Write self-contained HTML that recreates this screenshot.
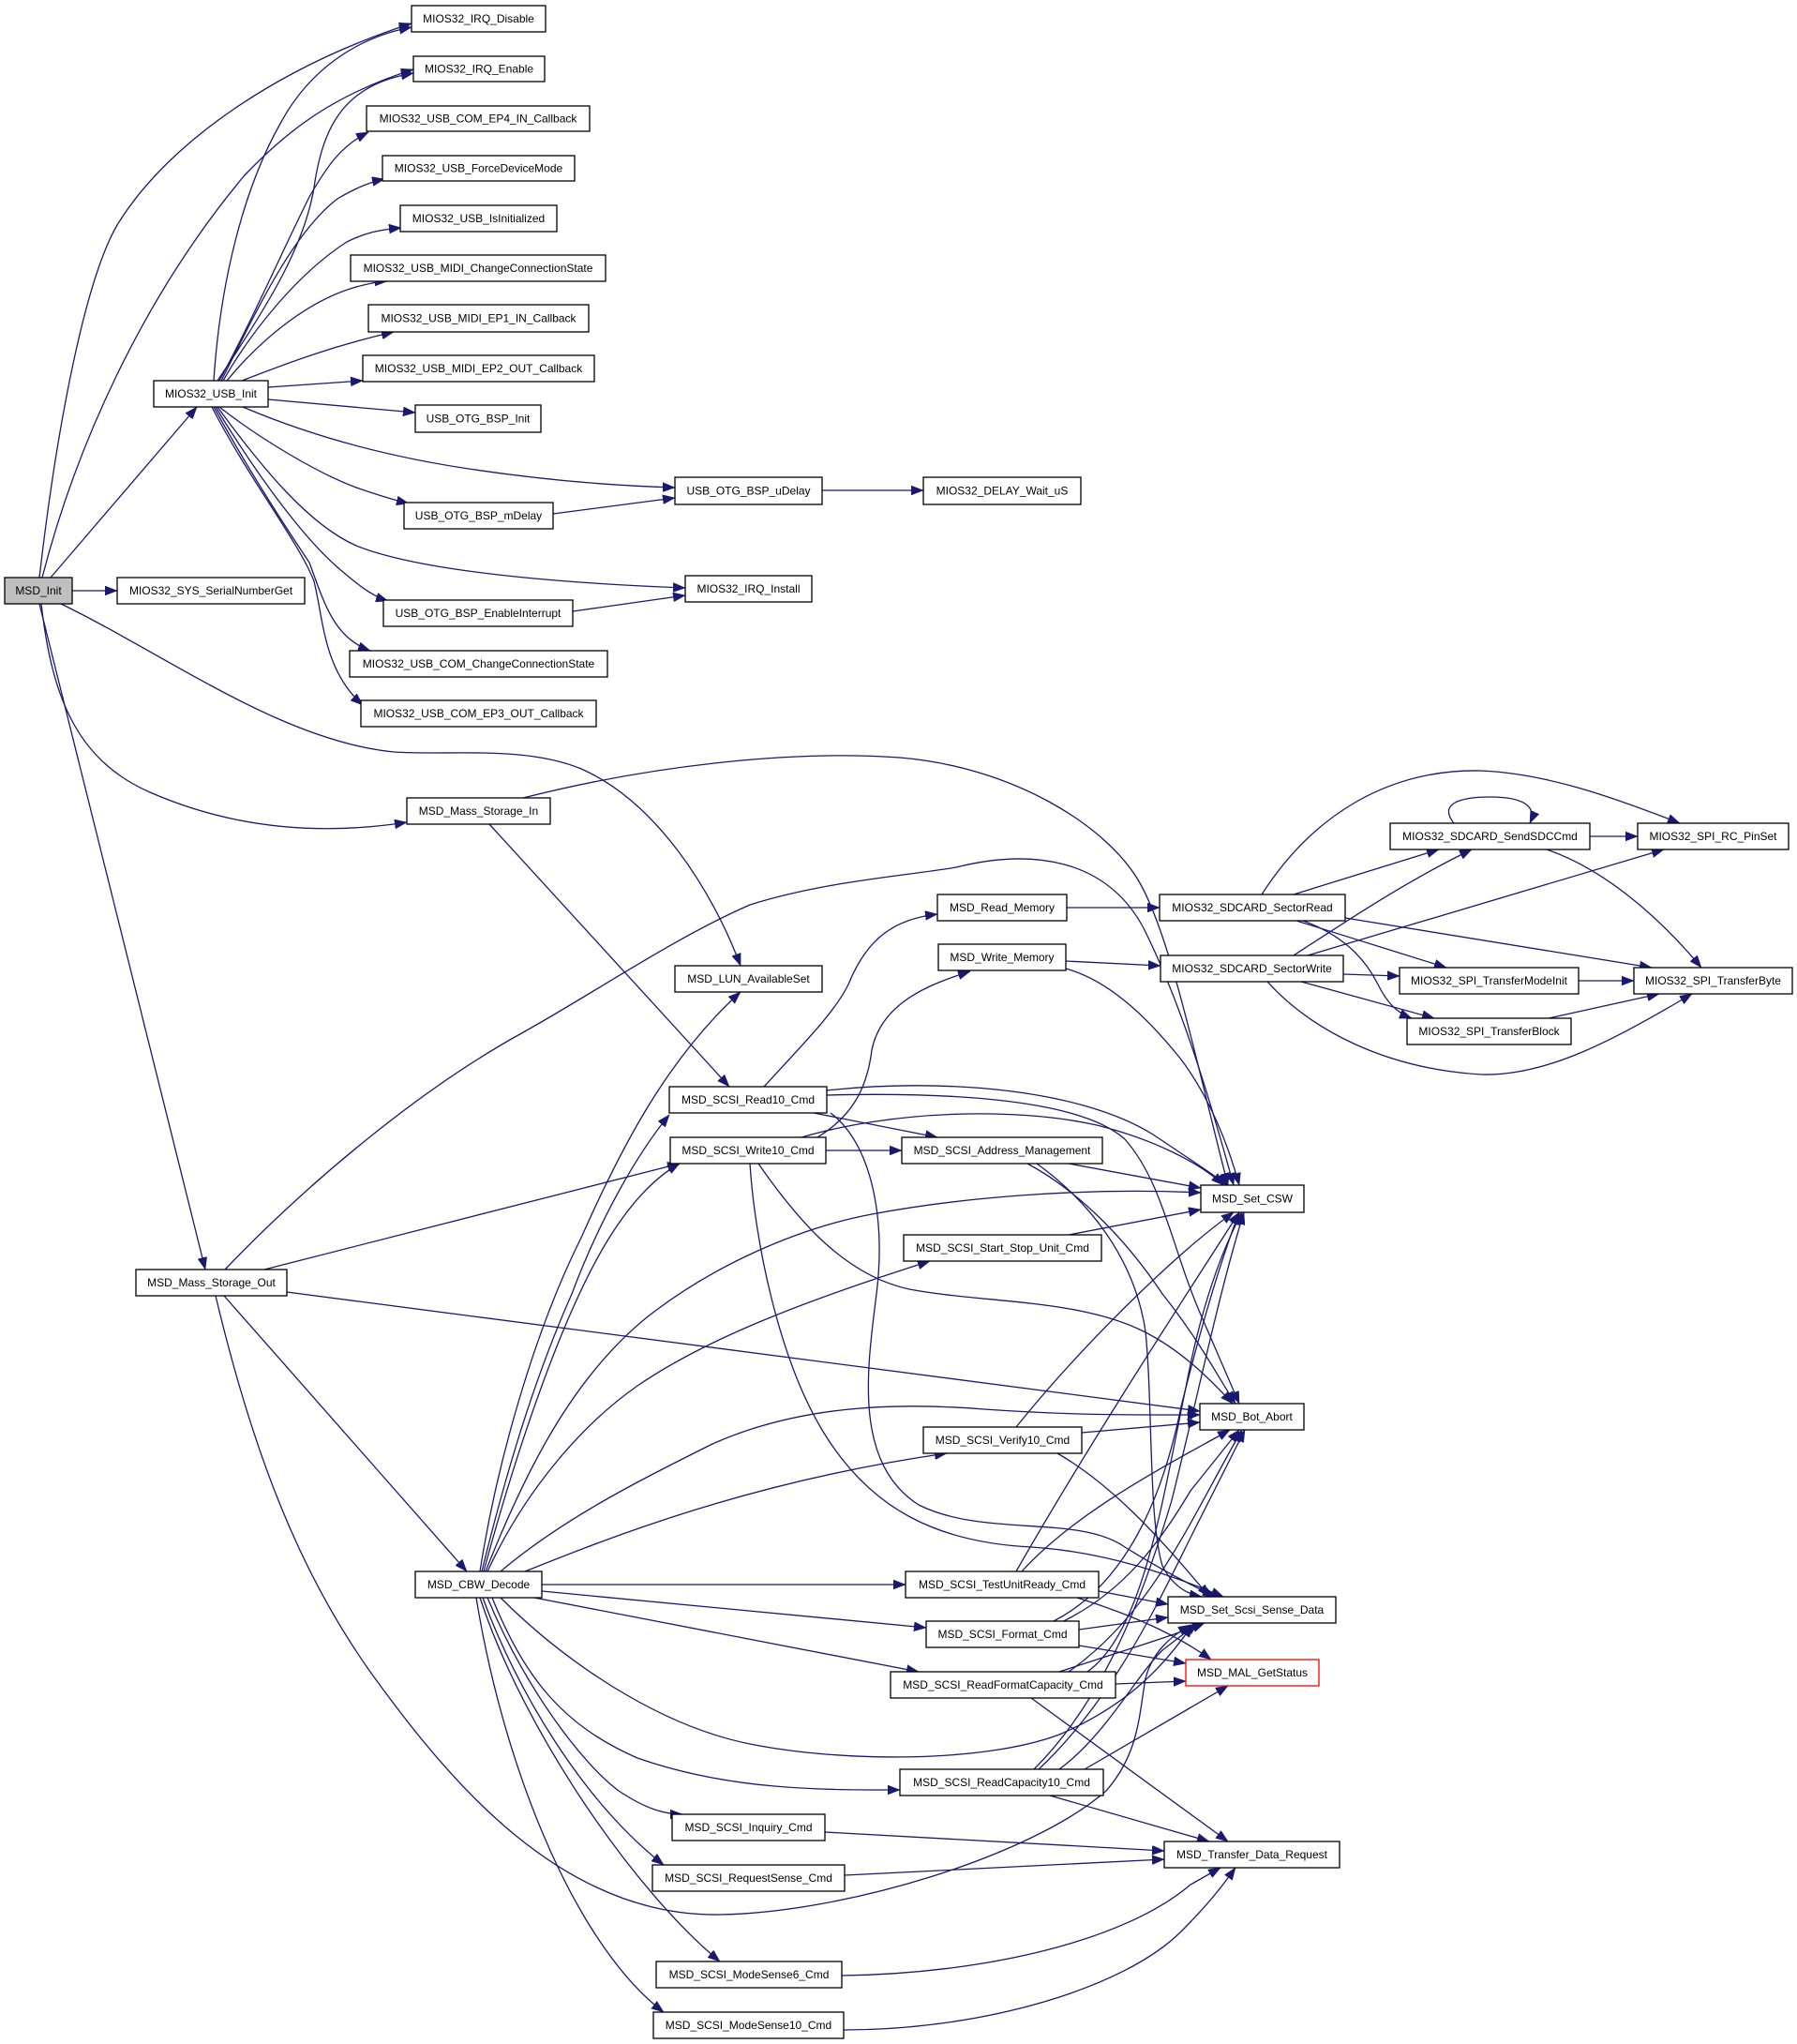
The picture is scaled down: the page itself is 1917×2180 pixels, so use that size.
<!DOCTYPE html>
<html><head><meta charset="utf-8"><style>
html,body{margin:0;padding:0;background:#fff;}
svg{display:block;}
text{font-family:"Liberation Sans",Arial,sans-serif;font-size:12px;fill:#000;text-anchor:middle;}
.e{fill:none;stroke:#191970;stroke-width:1.3;marker-end:url(#a);}
.n{fill:#fff;stroke:#000;stroke-width:1.3;}
</style></head><body>
<svg width="1917" height="2180" viewBox="0 0 1917 2180" xmlns="http://www.w3.org/2000/svg">
<defs><marker id="a" markerUnits="userSpaceOnUse" markerWidth="13" markerHeight="10" refX="13" refY="5" orient="auto"><path d="M0,0 L13,5 L0,10 z" fill="#191970" stroke="#191970" stroke-width="0.5"/></marker></defs>
<rect width="1917" height="2180" fill="#fff"/>
<g>
<!-- MSD_Init edges -->
<path class="e" d="M42,616 C60,460 90,300 125,240 C180,150 300,70 439,25"/>
<path class="e" d="M45,616 C80,480 150,320 260,188 C310,135 360,100 441,74"/>
<path class="e" d="M54,616 L210,434"/>
<path class="e" d="M77,630 L125,630"/>
<path class="e" d="M65,644 C180,700 300,790 420,802 C480,806 560,795 620,820 C700,855 760,950 790,1030"/>
<path class="e" d="M44,644 C55,740 80,810 160,845 C240,880 330,893 434,877"/>
<path class="e" d="M42,644 L219,1354"/>
<!-- USB_Init edges -->
<path class="e" d="M228,406 C235,300 260,200 300,130 C330,75 380,40 439,29"/>
<path class="e" d="M232,406 C290,320 325,260 335,200 C345,130 370,90 441,78"/>
<path class="e" d="M234,406 C270,340 300,270 330,210 C350,175 365,155 393,141"/>
<path class="e" d="M236,406 C270,340 310,250 360,212 C380,200 395,194 410,191"/>
<path class="e" d="M238,406 C270,350 320,290 370,258 C390,248 405,245 428,243"/>
<path class="e" d="M242,406 C280,360 330,320 380,306 C395,302 405,300 413,300"/>
<path class="e" d="M258,406 C300,390 350,370 420,354"/>
<path class="e" d="M286,413 L387,406"/>
<path class="e" d="M286,426 L443,440"/>
<path class="e" d="M259,434 C320,460 400,485 500,500 C580,512 650,518 720,520"/>
<path class="e" d="M234,434 C280,470 340,505 380,520 C400,527 415,532 436,537"/>
<path class="e" d="M232,434 C280,500 330,560 380,582 C450,610 600,622 731,627"/>
<path class="e" d="M230,434 C270,500 320,570 360,605 C380,622 395,635 414,641"/>
<path class="e" d="M228,434 C270,510 310,570 330,600 C345,640 355,680 395,694"/>
<path class="e" d="M226,434 C265,510 320,580 335,620 C345,660 345,715 387,752"/>
<path class="e" d="M590,548 L720,531"/>
<path class="e" d="M611,652 L731,635"/>
<path class="e" d="M877,523 L985,523"/>
<!-- Mass storage -->
<path class="e" d="M558,851 C700,815 850,800 960,808 C1080,818 1180,880 1215,940 C1250,1000 1280,1150 1310,1264"/>
<path class="e" d="M522,879 L778,1159"/>
<path class="e" d="M240,1354 C330,1260 450,1160 560,1100 C640,1055 720,1000 800,965 C880,940 960,935 1020,925 C1100,905 1180,915 1220,990 C1260,1070 1290,1170 1316,1264"/>
<path class="e" d="M282,1354 L725,1241"/>
<path class="e" d="M306,1378 L1280,1505"/>
<path class="e" d="M239,1382 L498,1676"/>
<path class="e" d="M230,1382 C270,1550 320,1680 400,1790 C480,1900 600,2045 768,2042 C900,2040 1100,1980 1180,1910 C1215,1870 1215,1830 1222,1790 C1230,1760 1250,1745 1270,1733"/>
<!-- Memory / SDCARD -->
<path class="e" d="M1138,968 L1237,968"/>
<path class="e" d="M1137,1025 L1238,1030"/>
<path class="e" d="M1137,1033 C1180,1045 1220,1080 1260,1130 C1290,1170 1310,1220 1322,1264"/>
<path class="e" d="M815,1159 C860,1110 890,1080 905,1050 C925,1000 955,980 1000,975"/>
<path class="e" d="M872,1213 C910,1190 925,1160 930,1120 C940,1070 990,1050 1035,1036"/>
<path class="e" d="M1380,954 L1535,906"/>
<path class="e" d="M1346,954 C1400,870 1480,820 1580,822 C1650,825 1720,850 1792,878"/>
<path class="e" d="M1435,979 L1762,1032"/>
<path class="e" d="M1383,982 L1543,1032"/>
<path class="e" d="M1390,982 C1440,1000 1460,1030 1470,1050 C1480,1070 1490,1080 1506,1086"/>
<path class="e" d="M1380,1019 C1440,980 1500,940 1570,906"/>
<path class="e" d="M1395,1019 L1775,906"/>
<path class="e" d="M1433,1039 L1493,1041"/>
<path class="e" d="M1388,1047 L1530,1086"/>
<path class="e" d="M1352,1047 C1400,1100 1480,1140 1580,1146 C1650,1148 1720,1110 1805,1060"/>
<path class="e" d="M1696,892 L1747,892"/>
<path class="e" d="M1650,906 C1720,930 1780,990 1815,1032"/>
<path class="e" d="M1551,878 C1535,858 1555,850 1590,850 C1625,850 1640,860 1632,878"/>
<path class="e" d="M1684,1046 L1743,1046"/>
<path class="e" d="M1652,1086 L1770,1060"/>
<!-- Read10 / Write10 / Addr -->
<path class="e" d="M882,1163 C1000,1150 1150,1160 1230,1210 C1260,1230 1290,1250 1310,1264"/>
<path class="e" d="M882,1168 C1000,1165 1150,1170 1200,1215 C1240,1260 1250,1330 1280,1400 L1322,1497"/>
<path class="e" d="M868,1187 L1000,1213"/>
<path class="e" d="M886,1187 C930,1220 945,1300 935,1380 C925,1460 910,1560 980,1605 C1050,1640 1150,1615 1200,1650 C1240,1675 1270,1690 1296,1703"/>
<path class="e" d="M881,1227 L962,1227"/>
<path class="e" d="M855,1213 C950,1185 1080,1180 1170,1200 C1230,1215 1280,1240 1305,1264"/>
<path class="e" d="M809,1241 C850,1300 900,1360 970,1375 C1050,1390 1150,1385 1220,1420 C1260,1440 1290,1470 1315,1497"/>
<path class="e" d="M800,1241 C805,1320 830,1450 880,1530 C930,1610 1000,1645 1100,1650 C1180,1655 1250,1680 1305,1703"/>
<path class="e" d="M1140,1241 L1281,1267"/>
<path class="e" d="M1096,1241 C1150,1270 1200,1320 1240,1380 C1280,1430 1300,1470 1318,1497"/>
<path class="e" d="M1106,1241 C1160,1280 1210,1340 1222,1420 C1230,1500 1225,1620 1240,1670 C1250,1690 1265,1700 1282,1703"/>
<path class="e" d="M1140,1317 L1281,1290"/>
<!-- CBW_Decode -->
<path class="e" d="M512,1676 C530,1560 570,1420 620,1320 C660,1230 710,1130 790,1058"/>
<path class="e" d="M514,1676 C540,1570 570,1470 610,1380 C640,1300 680,1230 714,1189"/>
<path class="e" d="M516,1676 C550,1550 600,1400 650,1320 C675,1280 700,1255 725,1241"/>
<path class="e" d="M518,1676 C560,1570 610,1470 690,1405 C760,1350 850,1310 930,1295 C1020,1278 1150,1266 1281,1272"/>
<path class="e" d="M520,1676 C560,1590 620,1520 680,1478 C750,1430 850,1390 992,1345"/>
<path class="e" d="M534,1676 C600,1620 680,1580 760,1540 C850,1500 950,1495 1050,1503 C1150,1510 1220,1509 1280,1509"/>
<path class="e" d="M560,1676 C650,1640 800,1580 1010,1550"/>
<path class="e" d="M578,1690 L966,1690"/>
<path class="e" d="M578,1697 L988,1736"/>
<path class="e" d="M570,1704 L980,1783"/>
<path class="e" d="M534,1704 C600,1770 700,1840 800,1860 C900,1880 1050,1880 1130,1850 C1200,1820 1240,1780 1272,1733"/>
<path class="e" d="M525,1704 C560,1790 600,1840 680,1875 C780,1910 880,1909 960,1909"/>
<path class="e" d="M520,1704 C560,1800 620,1880 660,1910 C690,1930 710,1935 728,1935"/>
<path class="e" d="M515,1704 C550,1800 620,1920 708,1989"/>
<path class="e" d="M512,1704 C560,1850 680,2020 768,2092"/>
<path class="e" d="M508,1704 C540,1900 620,2080 708,2146"/>
<!-- Verify10 -->
<path class="e" d="M1084,1522 C1150,1440 1250,1340 1316,1293"/>
<path class="e" d="M1154,1528 L1280,1517"/>
<path class="e" d="M1128,1550 C1180,1580 1230,1630 1290,1703"/>
<!-- TestUnitReady -->
<path class="e" d="M1084,1676 C1150,1560 1240,1420 1322,1293"/>
<path class="e" d="M1090,1676 C1150,1610 1250,1560 1312,1525"/>
<path class="e" d="M1172,1697 L1246,1711"/>
<path class="e" d="M1149,1704 C1200,1720 1250,1740 1292,1770"/>
<!-- Format -->
<path class="e" d="M1124,1729 C1200,1690 1240,1600 1260,1500 C1280,1420 1300,1350 1322,1293"/>
<path class="e" d="M1126,1733 C1200,1700 1240,1640 1270,1590 L1322,1525"/>
<path class="e" d="M1151,1738 L1246,1725"/>
<path class="e" d="M1151,1755 L1265,1774"/>
<!-- ReadFormatCapacity -->
<path class="e" d="M1160,1783 C1220,1740 1240,1600 1265,1480 C1280,1400 1300,1340 1325,1293"/>
<path class="e" d="M1140,1783 C1230,1720 1270,1620 1325,1525"/>
<path class="e" d="M1130,1783 C1200,1760 1250,1745 1285,1731"/>
<path class="e" d="M1190,1796 L1265,1793"/>
<path class="e" d="M1100,1811 L1310,1964"/>
<!-- ReadCapacity10 -->
<path class="e" d="M1103,1887 C1180,1810 1220,1700 1250,1600 C1280,1480 1300,1380 1327,1293"/>
<path class="e" d="M1108,1887 C1190,1810 1240,1700 1270,1640 L1328,1525"/>
<path class="e" d="M1130,1887 C1180,1850 1210,1790 1240,1760 L1278,1731"/>
<path class="e" d="M1157,1887 L1310,1798"/>
<path class="e" d="M1120,1915 L1290,1964"/>
<!-- others to TDR -->
<path class="e" d="M880,1954 L1242,1974"/>
<path class="e" d="M901,2000 L1242,1983"/>
<path class="e" d="M898,2107 C1050,2105 1200,2070 1270,2010 L1302,1992"/>
<path class="e" d="M900,2165 C1050,2165 1200,2120 1260,2060 C1290,2030 1305,2010 1318,1992"/>
</g>
<g>
<rect class="n" x="5" y="616" width="72" height="28" style="fill:#bfbfbf"/><text x="41" y="634">MSD_Init</text>
<rect class="n" x="439" y="6" width="143" height="28"/><text x="510.5" y="24">MIOS32_IRQ_Disable</text>
<rect class="n" x="441" y="60" width="140" height="27"/><text x="511" y="77.5">MIOS32_IRQ_Enable</text>
<rect class="n" x="391" y="113" width="238" height="27"/><text x="510" y="130.5">MIOS32_USB_COM_EP4_IN_Callback</text>
<rect class="n" x="408" y="166" width="205" height="27"/><text x="510.5" y="183.5">MIOS32_USB_ForceDeviceMode</text>
<rect class="n" x="427" y="219" width="167" height="28"/><text x="510.5" y="237">MIOS32_USB_IsInitialized</text>
<rect class="n" x="374" y="272" width="272" height="28"/><text x="510" y="290">MIOS32_USB_MIDI_ChangeConnectionState</text>
<rect class="n" x="393" y="325" width="235" height="29"/><text x="510.5" y="343.5">MIOS32_USB_MIDI_EP1_IN_Callback</text>
<rect class="n" x="387" y="379" width="247" height="28"/><text x="510.5" y="397">MIOS32_USB_MIDI_EP2_OUT_Callback</text>
<rect class="n" x="443" y="432" width="134" height="29"/><text x="510" y="450.5">USB_OTG_BSP_Init</text>
<rect class="n" x="164" y="406" width="122" height="28"/><text x="225" y="424">MIOS32_USB_Init</text>
<rect class="n" x="720" y="509" width="157" height="29"/><text x="798.5" y="527.5">USB_OTG_BSP_uDelay</text>
<rect class="n" x="985" y="509" width="168" height="29"/><text x="1069" y="527.5">MIOS32_DELAY_Wait_uS</text>
<rect class="n" x="431" y="536" width="159" height="28"/><text x="510.5" y="554">USB_OTG_BSP_mDelay</text>
<rect class="n" x="731" y="614" width="135" height="28"/><text x="798.5" y="632">MIOS32_IRQ_Install</text>
<rect class="n" x="125" y="616" width="200" height="28"/><text x="225" y="634">MIOS32_SYS_SerialNumberGet</text>
<rect class="n" x="409" y="640" width="202" height="28"/><text x="510" y="658">USB_OTG_BSP_EnableInterrupt</text>
<rect class="n" x="373" y="694" width="275" height="28"/><text x="510.5" y="712">MIOS32_USB_COM_ChangeConnectionState</text>
<rect class="n" x="385" y="747" width="251" height="28"/><text x="510.5" y="765">MIOS32_USB_COM_EP3_OUT_Callback</text>
<rect class="n" x="434" y="851" width="153" height="28"/><text x="510.5" y="869">MSD_Mass_Storage_In</text>
<rect class="n" x="145" y="1354" width="161" height="28"/><text x="225.5" y="1372">MSD_Mass_Storage_Out</text>
<rect class="n" x="720" y="1030" width="157" height="28"/><text x="798.5" y="1048">MSD_LUN_AvailableSet</text>
<rect class="n" x="1000" y="954" width="138" height="28"/><text x="1069" y="972">MSD_Read_Memory</text>
<rect class="n" x="1001" y="1007" width="136" height="28"/><text x="1069" y="1025">MSD_Write_Memory</text>
<rect class="n" x="1237" y="954" width="198" height="28"/><text x="1336" y="972">MIOS32_SDCARD_SectorRead</text>
<rect class="n" x="1238" y="1019" width="195" height="28"/><text x="1335.5" y="1037">MIOS32_SDCARD_SectorWrite</text>
<rect class="n" x="1483" y="878" width="213" height="28"/><text x="1589.5" y="896">MIOS32_SDCARD_SendSDCCmd</text>
<rect class="n" x="1747" y="878" width="161" height="28"/><text x="1827.5" y="896">MIOS32_SPI_RC_PinSet</text>
<rect class="n" x="1493" y="1032" width="191" height="28"/><text x="1588.5" y="1050">MIOS32_SPI_TransferModeInit</text>
<rect class="n" x="1743" y="1032" width="169" height="28"/><text x="1827.5" y="1050">MIOS32_SPI_TransferByte</text>
<rect class="n" x="1501" y="1086" width="175" height="28"/><text x="1588.5" y="1104">MIOS32_SPI_TransferBlock</text>
<rect class="n" x="714" y="1159" width="168" height="28"/><text x="798" y="1177">MSD_SCSI_Read10_Cmd</text>
<rect class="n" x="715" y="1213" width="166" height="28"/><text x="798" y="1231">MSD_SCSI_Write10_Cmd</text>
<rect class="n" x="962" y="1213" width="214" height="28"/><text x="1069" y="1231">MSD_SCSI_Address_Management</text>
<rect class="n" x="1281" y="1264" width="110" height="29"/><text x="1336" y="1282.5">MSD_Set_CSW</text>
<rect class="n" x="964" y="1317" width="211" height="28"/><text x="1069.5" y="1335">MSD_SCSI_Start_Stop_Unit_Cmd</text>
<rect class="n" x="1280" y="1497" width="111" height="28"/><text x="1335.5" y="1515">MSD_Bot_Abort</text>
<rect class="n" x="985" y="1522" width="169" height="28"/><text x="1069.5" y="1540">MSD_SCSI_Verify10_Cmd</text>
<rect class="n" x="443" y="1676" width="135" height="28"/><text x="510.5" y="1694">MSD_CBW_Decode</text>
<rect class="n" x="966" y="1676" width="206" height="28"/><text x="1069" y="1694">MSD_SCSI_TestUnitReady_Cmd</text>
<rect class="n" x="1246" y="1703" width="179" height="28"/><text x="1335.5" y="1721">MSD_Set_Scsi_Sense_Data</text>
<rect class="n" x="988" y="1729" width="163" height="28"/><text x="1069.5" y="1747">MSD_SCSI_Format_Cmd</text>
<rect class="n" x="1265" y="1770" width="142" height="28" style="stroke:#ff0000"/><text x="1336" y="1788">MSD_MAL_GetStatus</text>
<rect class="n" x="950" y="1783" width="240" height="28"/><text x="1070" y="1801">MSD_SCSI_ReadFormatCapacity_Cmd</text>
<rect class="n" x="960" y="1887" width="217" height="28"/><text x="1068.5" y="1905">MSD_SCSI_ReadCapacity10_Cmd</text>
<rect class="n" x="717" y="1935" width="163" height="28"/><text x="798.5" y="1953">MSD_SCSI_Inquiry_Cmd</text>
<rect class="n" x="696" y="1989" width="205" height="28"/><text x="798.5" y="2007">MSD_SCSI_RequestSense_Cmd</text>
<rect class="n" x="1242" y="1964" width="187" height="28"/><text x="1335.5" y="1982">MSD_Transfer_Data_Request</text>
<rect class="n" x="700" y="2092" width="198" height="28"/><text x="799" y="2110">MSD_SCSI_ModeSense6_Cmd</text>
<rect class="n" x="697" y="2146" width="203" height="28"/><text x="798.5" y="2164">MSD_SCSI_ModeSense10_Cmd</text>
</g>
</svg>
</body></html>
